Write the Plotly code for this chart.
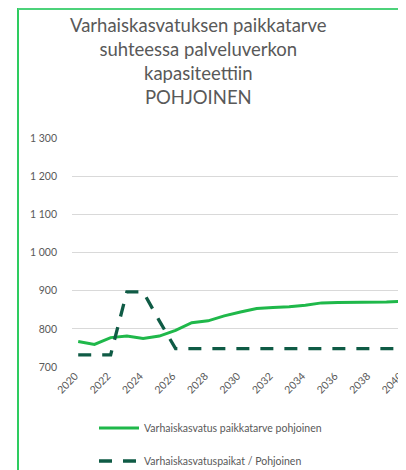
import plotly.graph_objects as go

years = list(range(2020, 2041))
demand = [767, 759, 777, 781, 775, 781, 796, 816, 821, 834, 844, 853, 856, 858, 862, 868, 869, 869, 869, 870, 872]
places = [732, 732, 732, 897, 897, 821, 748, 748, 748, 748, 748, 748, 748, 748, 748, 748, 748, 748, 748, 748, 748]
y_ticks = [700, 800, 900, 1000, 1100, 1200, 1300]
y_labels = ["700", "800", "900", "1 000", "1 100", "1 200", "1 300"]
x_ticks = list(range(2020, 2041, 2))
x_labels = [str(v) for v in x_ticks]
title_lines = ["Varhaiskasvatuksen paikkatarve", "suhteessa palveluverkon", "kapasiteettiin", "POHJOINEN"]
name_demand = "Varhaiskasvatus paikkatarve pohjoinen"
name_places = "Varhaiskasvatuspaikat / Pohjoinen"

W, H = 406, 470
FONT = "Lato, Carlito, Calibri, sans-serif"
GRAY = "#595959"
OFF = 8  # page body margin offset

l, r, t, b = 64, 9, 130, 111
PW, PH = W - l - r, H - t - b


def px(x_screen):
    return (x_screen - OFF - l) / PW


def py(y_screen):
    return (H - b - (y_screen - OFF)) / PH


def cx(x_screen):
    return (x_screen - OFF) / W


def cy(y_screen):
    return 1 - (y_screen - OFF) / H


fig = go.Figure()
fig.add_trace(go.Scatter(x=years, y=demand, mode="lines", name=name_demand,
                         line=dict(color="#1fb84a", width=3), legend="legend"))
fig.add_trace(go.Scatter(x=years, y=places, mode="lines", name=name_places,
                         line=dict(color="#0f5b45", width=3.3, dash="13px,11px"), legend="legend2"))

fig.update_layout(
    width=W, height=H,
    margin=dict(l=l, r=r, t=t, b=b, autoexpand=False),
    paper_bgcolor="white", plot_bgcolor="white",
    font=dict(family=FONT, color=GRAY, size=11),
    showlegend=True,
    legend=dict(x=cx(94), y=cy(428), xref="container", yref="container", xanchor="left", yanchor="middle",
                itemwidth=40,
                font=dict(size=10.5, color=GRAY, family=FONT), bgcolor="rgba(0,0,0,0)"),
    legend2=dict(x=cx(94), y=cy(461), xref="container", yref="container", xanchor="left", yanchor="middle",
                 itemwidth=40,
                 font=dict(size=10.5, color=GRAY, family=FONT), bgcolor="rgba(0,0,0,0)"),
    xaxis=dict(range=[2019.617, 2040.14], tickvals=x_ticks, ticktext=x_labels, tickangle=-45,
               showgrid=False, zeroline=False, showline=False, ticks="", ticklabelshift=-3,
               automargin=False,
               tickfont=dict(size=10.5, color=GRAY, family=FONT)),
    yaxis=dict(range=[700, 1300], tickvals=y_ticks, ticktext=y_labels,
               showgrid=True, gridcolor="#d9d9d9", gridwidth=1, zeroline=False, showline=False,
               ticks="", ticklabelstandoff=14, automargin=False,
               tickfont=dict(size=10.5, color=GRAY, family=FONT)),
)

fig.add_annotation(text="<br>".join(title_lines), x=px(198), y=py(12), xref="paper", yref="paper",
                   xanchor="center", yanchor="top", showarrow=False,
                   font=dict(size=18.5, color=GRAY, family=FONT))

# frame (left and top border)
fig.add_shape(type="line", xref="paper", yref="paper", x0=px(18), x1=px(18),
              y0=py(8), y1=py(480), line=dict(color="#2ecc60", width=2))
fig.add_shape(type="line", xref="paper", yref="paper", x0=px(18), x1=px(420),
              y0=py(9), y1=py(9), line=dict(color="#4cd27a", width=2))

fig.write_html("out.html")
